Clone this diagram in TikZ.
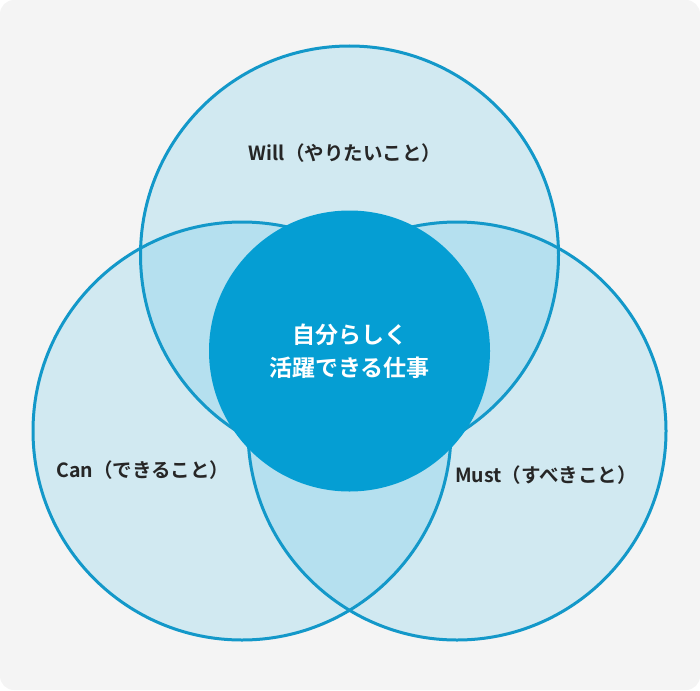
\documentclass[tikz,border=0pt]{standalone}
\usepackage{fontspec}
\newfontfamily\jpfont{Noto Sans CJK JP}[BoldFont={Noto Sans CJK JP Bold}]
\definecolor{bgpanel}{HTML}{F4F4F4}
\definecolor{ringblue}{HTML}{1398C9}
\definecolor{corefill}{HTML}{059ED3}
\definecolor{petal}{HTML}{48BDE8}

\begin{document}
\begin{tikzpicture}[x=1pt,y=-1pt]
    \tikzstyle{ring}=[draw=ringblue,line width=3pt];
    \tikzstyle{ringfill}=[fill=petal,fill opacity=0.2];
    \tikzstyle{annot}=[font=\jpfont\bfseries\fontsize{19.5}{24}\selectfont,text=black!85];

    % Background panel
    \fill[bgpanel,rounded corners=14pt] (0,0) rectangle (700,690);
    \useasboundingbox (0,0) rectangle (700,690);

    % Three circles
    \coordinate (W) at (349.5,255);
    \coordinate (C) at (242,431);
    \coordinate (M) at (457,431);
    \foreach \c in {W,C,M}
    \fill[ringfill] (\c) circle (209);
    \foreach \c in {W,C,M}
    \draw[ring] (\c) circle (209);

    % Core circle
    \fill[corefill] (349.5,351) circle (140.5);

    % Labels
    \node[annot] (will) at (345,153) {Will（やりたいこと）};
    \node[annot] (can) at (143,470) {Can（できること）};
    \node[annot] (must) at (546,475) {Must（すべきこと）};
    \node[annot,text=white,align=center,font=\jpfont\bfseries\fontsize{23}{33}\selectfont]
      (core) at (349.5,351) {自分らしく\\活躍できる仕事};
\end{tikzpicture}
\end{document}
